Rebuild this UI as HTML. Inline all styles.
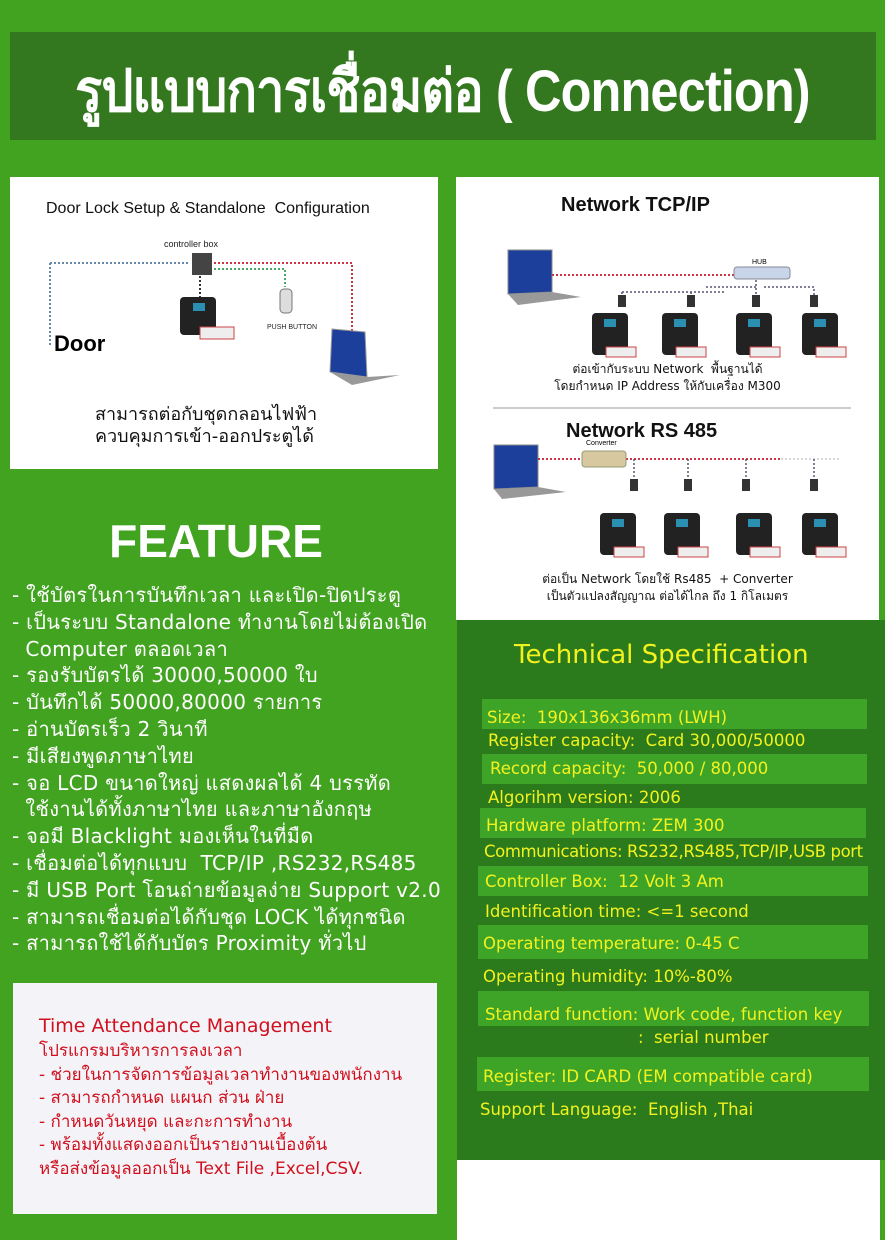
<!DOCTYPE html>
<html><head><meta charset="utf-8">
<style>
*{margin:0;padding:0;box-sizing:border-box}
body{width:885px;height:1240px;background:#42a321;position:relative;overflow:hidden;font-family:"DejaVu Sans","Liberation Sans",sans-serif}
.a{position:absolute;white-space:nowrap}
#title{left:10px;top:32px;width:866px;height:108px;background:#33781e}
#tt{left:0;top:44px;width:885px;text-align:center;color:#fff;font:bold 58px "Liberation Sans","DejaVu Sans",sans-serif;letter-spacing:-1px;transform:scaleX(0.87);transform-origin:442px 0}
.panel{position:absolute;background:#fff}
.feat{left:12px;color:#fff;font-size:20px;line-height:26.8px;letter-spacing:0.3px}
.spec{position:absolute;background:#2b7a1c;left:457px;top:620px;width:428px;height:540px}
.st{position:absolute;background:#3ea428;height:30px}
.sp{position:absolute;color:#f2f21e;font-size:16.5px;white-space:nowrap}
.tam{color:#d0101e;font-size:17px;line-height:23.5px}
</style></head><body>
<div id="title" class="a"></div>
<div id="tt" class="a">รูปแบบการเชื่อมต่อ ( Connection)</div>

<div class="panel" style="left:10px;top:177px;width:428px;height:292px"></div>
<div class="a" style="left:46px;top:200px;font:16px 'Liberation Sans',sans-serif;color:#111">Door Lock Setup &amp; Standalone&nbsp; Configuration</div>
<svg class="a" style="left:10px;top:177px" width="428" height="292">
 <g fill="none">
 <path d="M40 86 H180" stroke="#6688aa" stroke-width="2" stroke-dasharray="2 2"/>
 <path d="M40 86 V170" stroke="#6688aa" stroke-width="2" stroke-dasharray="2 2"/>
 <path d="M200 86 H342 V160" stroke="#cc3344" stroke-width="2" stroke-dasharray="2 2"/>
 <path d="M200 92 H275 V110" stroke="#44aa66" stroke-width="2" stroke-dasharray="2 2"/>
 <path d="M190 95 V130" stroke="#333" stroke-width="2" stroke-dasharray="2 2"/>
 </g>
 <text x="154" y="70" font-size="9" font-family="Liberation Sans" fill="#222">controller box</text>
 <rect x="182" y="76" width="20" height="22" fill="#444"/>
 <rect x="170" y="120" width="36" height="38" rx="4" fill="#222"/><rect x="183" y="126" width="12" height="8" fill="#2a8fb0"/>
 <rect x="190" y="150" width="34" height="12" fill="#eee" stroke="#c44"/>
 <rect x="270" y="112" width="12" height="24" rx="4" fill="#ddd" stroke="#777"/>
 <text x="257" y="152" font-size="7" font-family="Liberation Sans" fill="#222">PUSH BUTTON</text>
 <path d="M322 152 L355 155 L357 200 L320 195Z" fill="#1b3f9a" stroke="#999"/>
 <path d="M320 195 L357 200 L390 198 L342 208Z" fill="#999"/>
 <text x="44" y="174" font-size="22" font-weight="bold" font-family="Liberation Sans" fill="#000">Door</text>
</svg>
<div class="a" style="left:95px;top:404px;font-size:18px;color:#111;line-height:22px">สามารถต่อกับชุดกลอนไฟฟ้า<br>ควบคุมการเข้า-ออกประตูได้</div>

<div class="panel" style="left:456px;top:177px;width:423px;height:443px"></div>
<div class="a" style="left:561px;top:194px;font:bold 20px 'Liberation Sans',sans-serif;color:#111">Network TCP/IP</div>
<svg class="a" style="left:456px;top:177px" width="423" height="443">
 <path d="M52 73 L96 73 L96 115 L52 117Z" fill="#1b3f9a" stroke="#888"/>
 <path d="M52 117 L96 115 L125 120 L62 128Z" fill="#999"/>
 <path d="M96 98 H280" stroke="#cc3344" stroke-width="2" stroke-dasharray="2 2"/>
 <rect x="278" y="90" width="56" height="12" rx="3" fill="#c8d4e8" stroke="#889"/>
 <text x="296" y="87" font-size="7" font-family="Liberation Sans">HUB</text>
 <path d="M166 115 V125 M166 115 H270 M235 115 V125 M300 103 V125 M250 110 H300 M308 110 H358 V125" stroke="#557" stroke-width="1.5" stroke-dasharray="2 2" fill="none"/>
 <g fill="#333"><rect x="162" y="118" width="8" height="12"/><rect x="231" y="118" width="8" height="12"/><rect x="296" y="118" width="8" height="12"/><rect x="354" y="118" width="8" height="12"/></g>
 <g><rect x="136" y="136" width="36" height="42" rx="4" fill="#222"/><rect x="148" y="142" width="12" height="8" fill="#2a8fb0"/><rect x="150" y="170" width="30" height="10" fill="#eee" stroke="#c44"/></g>
 <g><rect x="206" y="136" width="36" height="42" rx="4" fill="#222"/><rect x="218" y="142" width="12" height="8" fill="#2a8fb0"/><rect x="220" y="170" width="30" height="10" fill="#eee" stroke="#c44"/></g>
 <g><rect x="280" y="136" width="36" height="42" rx="4" fill="#222"/><rect x="292" y="142" width="12" height="8" fill="#2a8fb0"/><rect x="294" y="170" width="30" height="10" fill="#eee" stroke="#c44"/></g>
 <g><rect x="346" y="136" width="36" height="42" rx="4" fill="#222"/><rect x="358" y="142" width="12" height="8" fill="#2a8fb0"/><rect x="360" y="170" width="30" height="10" fill="#eee" stroke="#c44"/></g>
 <line x1="37" y1="231" x2="395" y2="231" stroke="#ccc" stroke-width="2"/>
 <path d="M38 268 L82 268 L82 310 L38 312Z" fill="#1b3f9a" stroke="#888"/>
 <path d="M38 312 L82 310 L110 315 L46 322Z" fill="#999"/>
 <path d="M82 282 H325" stroke="#cc3344" stroke-width="2" stroke-dasharray="2 2"/>
 <path d="M325 282 H385" stroke="#ccc" stroke-width="1.5" stroke-dasharray="2 2"/>
 <text x="130" y="268" font-size="7" font-family="Liberation Sans">Converter</text>
 <rect x="126" y="274" width="44" height="16" rx="3" fill="#d8c8a0" stroke="#997"/>
 <path d="M178 282 V310 M232 282 V310 M290 282 V310 M358 282 V310" stroke="#557" stroke-width="1.5" stroke-dasharray="2 2"/>
 <g fill="#333"><rect x="174" y="302" width="8" height="12"/><rect x="228" y="302" width="8" height="12"/><rect x="286" y="302" width="8" height="12"/><rect x="354" y="302" width="8" height="12"/></g>
 <g><rect x="144" y="336" width="36" height="42" rx="4" fill="#222"/><rect x="156" y="342" width="12" height="8" fill="#2a8fb0"/><rect x="158" y="370" width="30" height="10" fill="#eee" stroke="#c44"/></g>
 <g><rect x="208" y="336" width="36" height="42" rx="4" fill="#222"/><rect x="220" y="342" width="12" height="8" fill="#2a8fb0"/><rect x="222" y="370" width="30" height="10" fill="#eee" stroke="#c44"/></g>
 <g><rect x="280" y="336" width="36" height="42" rx="4" fill="#222"/><rect x="292" y="342" width="12" height="8" fill="#2a8fb0"/><rect x="294" y="370" width="30" height="10" fill="#eee" stroke="#c44"/></g>
 <g><rect x="346" y="336" width="36" height="42" rx="4" fill="#222"/><rect x="358" y="342" width="12" height="8" fill="#2a8fb0"/><rect x="360" y="370" width="30" height="10" fill="#eee" stroke="#c44"/></g>
</svg>
<div class="a" style="left:456px;top:361px;width:423px;text-align:center;font-size:12px;line-height:17px;color:#111">ต่อเข้ากับระบบ Network&nbsp; พื้นฐานได้<br>โดยกำหนด IP Address ให้กับเครื่อง M300</div>
<div class="a" style="left:566px;top:420px;font:bold 20px 'Liberation Sans',sans-serif;color:#111">Network RS 485</div>
<div class="a" style="left:456px;top:571px;width:423px;text-align:center;font-size:12px;line-height:17px;color:#111">ต่อเป็น Network โดยใช้ Rs485&nbsp; + Converter<br>เป็นตัวแปลงสัญญาณ ต่อได้ไกล ถึง 1 กิโลเมตร</div>

<div class="a" style="left:0;top:514px;width:432px;text-align:center;color:#fff;font:bold 46px 'Liberation Sans',sans-serif">FEATURE</div>
<div class="a feat" style="top:582px">- ใช้บัตรในการบันทึกเวลา และเปิด-ปิดประตู<br>- เป็นระบบ Standalone ทำงานโดยไม่ต้องเปิด<br>&nbsp; Computer ตลอดเวลา<br>- รองรับบัตรได้ 30000,50000 ใบ<br>- บันทึกได้ 50000,80000 รายการ<br>- อ่านบัตรเร็ว 2 วินาที<br>- มีเสียงพูดภาษาไทย<br>- จอ LCD ขนาดใหญ่ แสดงผลได้ 4 บรรทัด<br>&nbsp; ใช้งานได้ทั้งภาษาไทย และภาษาอังกฤษ<br>- จอมี Blacklight มองเห็นในที่มืด<br>- เชื่อมต่อได้ทุกแบบ&nbsp; TCP/IP ,RS232,RS485<br>- มี USB Port โอนถ่ายข้อมูลง่าย Support v2.0<br>- สามารถเชื่อมต่อได้กับชุด LOCK ได้ทุกชนิด<br>- สามารถใช้ได้กับบัตร Proximity ทั่วไป</div>

<div class="panel" style="left:13px;top:983px;width:424px;height:231px;background:#f4f4f8"></div>
<div class="a" style="left:39px;top:1015px;color:#d0101e;font-size:19px">Time Attendance Management</div>
<div class="a tam" style="left:39px;top:1040px">โปรแกรมบริหารการลงเวลา<br>- ช่วยในการจัดการข้อมูลเวลาทำงานของพนักงาน<br>- สามารถกำหนด แผนก ส่วน ฝ่าย<br>- กำหนดวันหยุด และกะการทำงาน<br>- พร้อมทั้งแสดงออกเป็นรายงานเบื้องต้น<br>หรือส่งข้อมูลออกเป็น Text File ,Excel,CSV.</div>

<div class="spec"></div>
<div class="panel" style="left:457px;top:1160px;width:423px;height:80px"></div>
<div class="a" style="left:514px;top:640px;color:#f2f21e;font-size:26px">Technical Specification</div>
<div class="st" style="left:482px;top:699px;width:385px"></div>
<div class="st" style="left:482px;top:754px;width:385px"></div>
<div class="st" style="left:480px;top:808px;width:386px"></div>
<div class="st" style="left:478px;top:866px;width:390px"></div>
<div class="st" style="left:478px;top:925px;width:390px;height:34px"></div>
<div class="st" style="left:478px;top:991px;width:391px;height:35px"></div>
<div class="st" style="left:477px;top:1057px;width:392px;height:34px"></div>
<div class="sp" style="left:487px;top:708px">Size:&nbsp; 190x136x36mm (LWH)</div>
<div class="sp" style="left:488px;top:731px">Register capacity:&nbsp; Card 30,000/50000</div>
<div class="sp" style="left:490px;top:759px">Record capacity:&nbsp; 50,000 / 80,000</div>
<div class="sp" style="left:488px;top:788px">Algorihm version: 2006</div>
<div class="sp" style="left:486px;top:816px">Hardware platform: ZEM 300</div>
<div class="sp" style="left:484px;top:842px;letter-spacing:-0.4px">Communications: RS232,RS485,TCP/IP,USB port</div>
<div class="sp" style="left:485px;top:872px">Controller Box:&nbsp; 12 Volt 3 Am</div>
<div class="sp" style="left:485px;top:902px">Identification time: &lt;=1 second</div>
<div class="sp" style="left:483px;top:934px">Operating temperature: 0-45 C</div>
<div class="sp" style="left:483px;top:967px">Operating humidity: 10%-80%</div>
<div class="sp" style="left:485px;top:1005px">Standard function: Work code, function key</div>
<div class="sp" style="left:638px;top:1028px">:&nbsp; serial number</div>
<div class="sp" style="left:483px;top:1067px">Register: ID CARD (EM compatible card)</div>
<div class="sp" style="left:480px;top:1100px">Support Language:&nbsp; English ,Thai</div>
</body></html>
